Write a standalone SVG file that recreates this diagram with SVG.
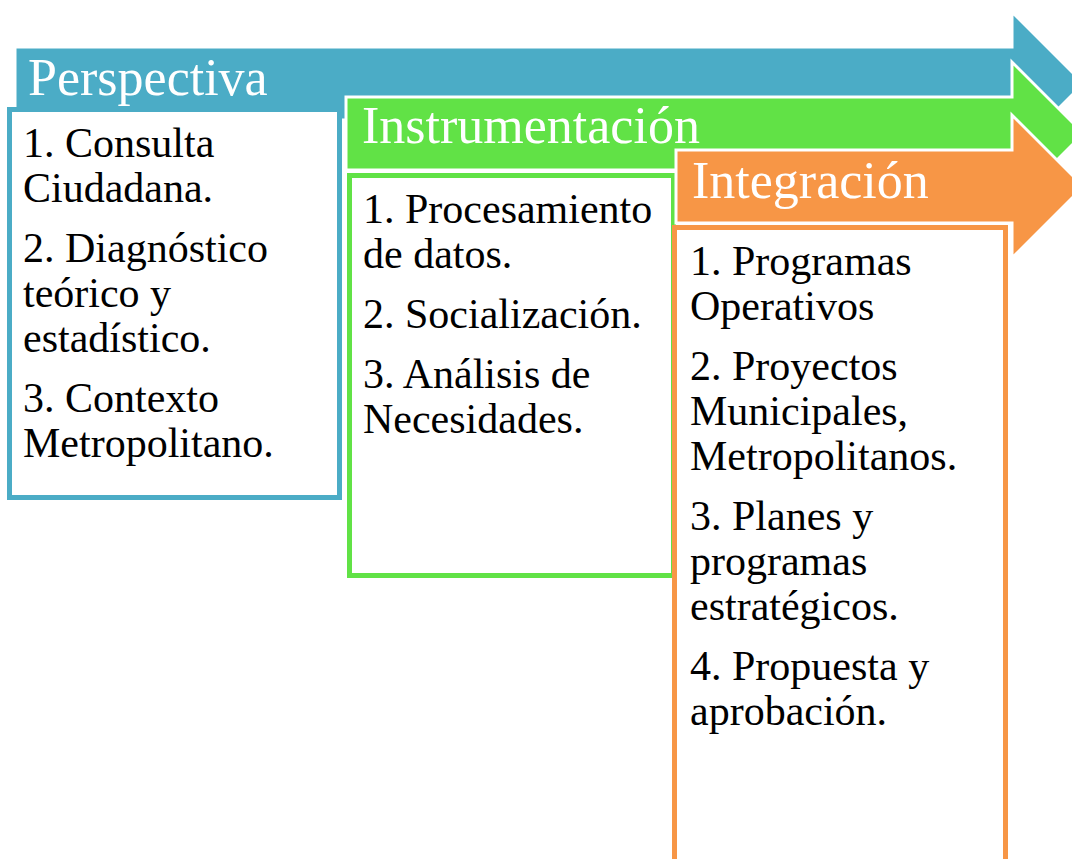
<svg xmlns="http://www.w3.org/2000/svg" width="1072" height="859" viewBox="0 0 1072 859">
<style>
.arrow{stroke:#fff;stroke-width:3;stroke-linejoin:miter}
.box{fill:#fff;stroke-width:5}
.hdr{font-family:"Liberation Serif","Times New Roman",serif;font-size:52px;fill:#fff}
.txt{font-family:"Liberation Serif","Times New Roman",serif;font-size:42px;fill:#000}
</style>
<rect width="1072" height="859" fill="#fff"/>
<g id="perspectiva">
<path class="arrow" fill="#4BACC6" d="M15,47 H1012 V12 L1083.5,83.5 L1012,155 V120 H15 Z"/>
<rect class="box" stroke="#4BACC6" x="9.5" y="109.5" width="330" height="388"/>
<text class="hdr" x="28" y="95">Perspectiva</text>
<text class="txt" x="23" y="157">1. Consulta</text>
<text class="txt" x="23" y="202">Ciudadana.</text>
<text class="txt" x="23" y="262">2. Diagnóstico</text>
<text class="txt" x="23" y="307">teórico y</text>
<text class="txt" x="23" y="352">estadístico.</text>
<text class="txt" x="23" y="412">3. Contexto</text>
<text class="txt" x="23" y="457">Metropolitano.</text>
</g>
<g id="instrumentacion">
<path class="arrow" fill="#61E246" d="M346,97 H1012 V62 L1083.5,133.5 L1012,205 V170 H346 Z"/>
<rect class="box" stroke="#61E246" x="349.5" y="175.5" width="324" height="400"/>
<text class="hdr" x="362" y="143">Instrumentación</text>
<text class="txt" x="363" y="223">1. Procesamiento</text>
<text class="txt" x="363" y="268">de datos.</text>
<text class="txt" x="363" y="328">2. Socialización.</text>
<text class="txt" x="363" y="388">3. Análisis de</text>
<text class="txt" x="363" y="433">Necesidades.</text>
</g>
<g id="integracion">
<path class="arrow" fill="#F79646" d="M676,150 H1012 V115 L1083.5,186.5 L1012,258 V223 H676 Z"/>
<rect class="box" stroke="#F79646" x="674.5" y="227.5" width="331" height="700"/>
<text class="hdr" x="692" y="198">Integración</text>
<text class="txt" x="690" y="275">1. Programas</text>
<text class="txt" x="690" y="320">Operativos</text>
<text class="txt" x="690" y="380">2. Proyectos</text>
<text class="txt" x="690" y="425">Municipales,</text>
<text class="txt" x="690" y="470">Metropolitanos.</text>
<text class="txt" x="690" y="530">3. Planes y</text>
<text class="txt" x="690" y="575">programas</text>
<text class="txt" x="690" y="620">estratégicos.</text>
<text class="txt" x="690" y="680">4. Propuesta y</text>
<text class="txt" x="690" y="725">aprobación.</text>
</g>
<g id="connectors"></g>
</svg>
